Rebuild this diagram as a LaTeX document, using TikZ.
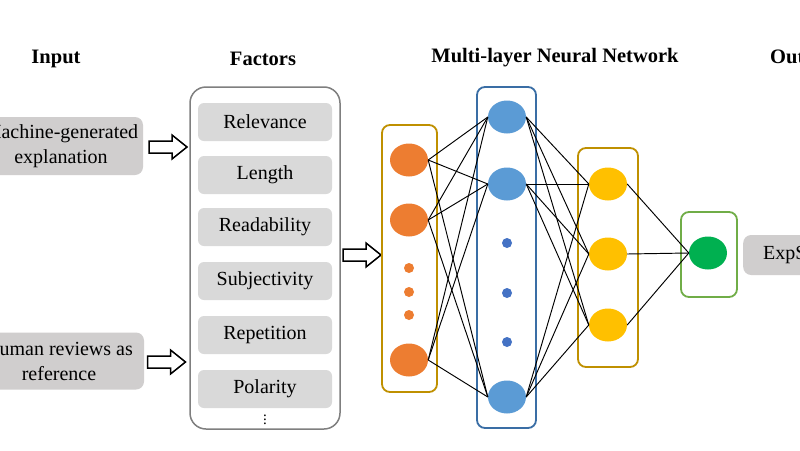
\documentclass[tikz,border=0pt]{standalone}
\usepackage{fontspec}
\setmainfont{Liberation Serif}
\usetikzlibrary{shapes.geometric}
\definecolor{boxgray}{HTML}{D0CECE}
\definecolor{facgray}{HTML}{D9D9D9}
\definecolor{outline}{HTML}{7F7F7F}
\definecolor{gold}{HTML}{BF9000}
\definecolor{bluebd}{HTML}{3A6EA5}
\definecolor{greenbd}{HTML}{70AD47}
\definecolor{orangec}{HTML}{ED7D31}
\definecolor{bluec}{HTML}{5B9BD5}
\definecolor{bluedot}{HTML}{4472C4}
\definecolor{yellowc}{HTML}{FFC000}
\definecolor{greenc}{HTML}{00B050}
\begin{document}
\begin{tikzpicture}[x=1pt,y=-1pt,
  title/.style={font=\fontsize{20.5}{24}\selectfont\bfseries, inner sep=0},
  inbox/.style={fill=boxgray, rounded corners=8pt, align=center, inner sep=0,
    font=\fontsize{20}{25}\selectfont},
  facbox/.style={fill=facgray, rounded corners=6pt, minimum width=134pt, minimum height=38pt,
    inner sep=0, font=\fontsize{20}{24}\selectfont},
  layerbox/.style={draw, line width=1.8pt, rounded corners=8pt, inner sep=0},
  neuron/.style={ellipse, minimum width=38pt, minimum height=33pt, inner sep=0},
  smalldot/.style={circle, minimum size=10pt, inner sep=0},
  link/.style={line width=0.95pt, black},
  harrow/.style={draw=black, fill=white, line width=1.5pt, line join=miter}
]
\useasboundingbox (0,0) rectangle (800,450);
\clip (0,0) rectangle (800,450);
\fill[white] (0,0) rectangle (800,450);

% titles
\node[title] (tIn) at (56,59) {Input};
\node[title] (tFac) at (263,59) {Factors};
\node[title] (tNN) at (555,58) {Multi-layer Neural Network};
\node[title, anchor=west] (tOut) at (770,59) {Output};

% inputs
\node[inbox, minimum width=164pt, minimum height=58pt] (in1) at (61,146) {Machine-generated\\explanation};
\node[inbox, minimum width=170pt, minimum height=57pt] (in2) at (59,361) {Human reviews as\\reference};

% factors
\node[draw=outline, line width=1.5pt, rounded corners=16pt, minimum width=150pt, minimum height=342pt, inner sep=0] (fac) at (265,258) {};
\node[facbox] (f1) at (265,122) {Relevance};
\node[facbox] (f2) at (265,175) {Length};
\node[facbox] (f3) at (265,227) {Readability};
\node[facbox] (f4) at (265,281) {Subjectivity};
\node[facbox] (f5) at (265,335) {Repetition};
\node[facbox] (f6) at (265,389) {Polarity};
\node[inner sep=0, font=\fontsize{15}{15}\selectfont] (fdots) at (265,417) {$\vdots$};

% hollow arrows
\newcommand\hollowarrow[3]{%
  \draw[harrow] (#1,#2) ++(-19,-6) -- ++(23,0) -- ++(0,-6) -- ++(15,12) -- ++(-15,12) -- ++(0,-6) -- ++(-23,0) -- cycle;
  \coordinate (#3) at (#1,#2);}
\hollowarrow{168}{147}{a1}
\hollowarrow{166.5}{362}{a2}
\hollowarrow{362}{255}{a3}

% layer boxes
\node[layerbox, draw=gold, minimum width=55pt, minimum height=267pt] (L1) at (409.5,258.5) {};
\node[layerbox, draw=bluebd, minimum width=59pt, minimum height=341pt] (L2) at (506.5,257.5) {};
\node[layerbox, draw=gold, minimum width=60pt, minimum height=219pt] (L3) at (608,257.5) {};
\node[layerbox, draw=greenbd, minimum width=56pt, minimum height=85pt] (L4) at (709,254.5) {};

% neurons
\node[neuron, fill=orangec] (o1) at (409,160) {};
\node[neuron, fill=orangec] (o2) at (409,220) {};
\node[neuron, fill=orangec] (o3) at (409,360) {};
\node[smalldot, fill=orangec] (od1) at (409,268) {};
\node[smalldot, fill=orangec] (od2) at (409,292) {};
\node[smalldot, fill=orangec] (od3) at (409,315) {};

\node[neuron, fill=bluec] (b1) at (507,117) {};
\node[neuron, fill=bluec] (b2) at (507,184) {};
\node[neuron, fill=bluec] (b3) at (507,397) {};
\node[smalldot, fill=bluedot] (bd1) at (507,243) {};
\node[smalldot, fill=bluedot] (bd2) at (507,293) {};
\node[smalldot, fill=bluedot] (bd3) at (507,342) {};

\node[neuron, fill=yellowc] (y1) at (608,184) {};
\node[neuron, fill=yellowc] (y2) at (608,254) {};
\node[neuron, fill=yellowc] (y3) at (608,325) {};

\node[neuron, fill=greenc] (g1) at (708,253) {};

% links
\foreach \s in {o1,o2,o3}{\foreach \t in {b1,b2,b3}{\draw[link] (\s.east) -- (\t.west);}}
\foreach \s in {b1,b2,b3}{\foreach \t in {y1,y2,y3}{\draw[link] (\s.east) -- (\t.west);}}
\foreach \s in {y1,y2,y3}{\draw[link] (\s.east) -- (g1.west);}

% output
\node[inbox, anchor=west, minimum height=40pt, inner xsep=20pt] (out) at (743,255) {ExpScore};
\end{tikzpicture}
\end{document}
